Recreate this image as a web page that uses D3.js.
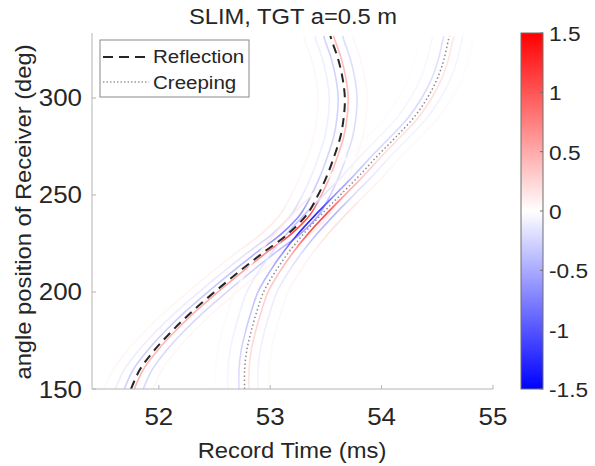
<!DOCTYPE html>
<html>
<head>
<meta charset="utf-8">
<script src="https://cdn.jsdelivr.net/npm/d3@7"></script>
<style>
  body { margin: 0; background: #fff; }
  text { font-family: "Liberation Sans", Arial, Helvetica, sans-serif; fill: #262626; }
</style>
</head>
<body>
<svg id="chart" width="595" height="466"></svg>
<script>
// receiver angle (deg) where the travel times were read
var angles = [150, 160, 170, 180, 190, 200, 210, 220, 230, 240, 250, 260, 270, 280, 290, 300, 310, 320, 330, 332];
// arrival times (ms)
var reflTime  = [51.75, 51.83, 51.96, 52.12, 52.30, 52.50, 52.71, 52.93, 53.16, 53.33, 53.43, 53.51, 53.575, 53.63, 53.66, 53.67, 53.65, 53.61, 53.55, 53.54];
var creepTime = [52.77, 52.77, 52.79, 52.83, 52.88, 52.94, 53.04, 53.16, 53.30, 53.46, 53.63, 53.80, 53.96, 54.13, 54.29, 54.41, 54.50, 54.56, 54.60, 54.61];
// strength of the image along each arrival
var reflGain  = [0.9, 0.9, 0.9, 0.9, 0.9, 1.0, 1.1, 1.4, 2.2, 2.0, 1.1, 0.8, 0.8, 0.8, 0.8, 0.8, 0.8, 0.8, 0.8, 0.8];
var creepGain = [0.5, 0.6, 0.7, 0.8, 0.9, 1.0, 1.2, 1.7, 3.4, 3.6, 1.9, 1.0, 0.7, 0.6, 0.6, 0.6, 0.5, 0.5, 0.5, 0.4];
// wavelet side lobes: time shift (ms) and amplitude
var reflOffsets  = [-0.24, -0.14, -0.06, 0.03, 0.11, 0.20];
var reflAmps     = [0.06, -0.12, -0.32, 0.50, -0.25, 0.06];
var creepOffsets = [-0.26, -0.15, -0.05, 0.04, 0.12, 0.22];
var creepAmps    = [0.04, -0.10, -0.36, 0.30, -0.12, 0.05];

var xTicks = [52, 53, 54, 55];
var yTicks = [150, 200, 250, 300];
var cbTicks = [1.5, 1, 0.5, 0, -0.5, -1, -1.5];

var svg = d3.select("#chart");
var pL = 92, pR = 493, pT = 33, pB = 389;

var x = d3.scaleLinear().domain([51.4, 55]).range([pL, pR]);
var y = d3.scaleLinear().domain([150, 333.5]).range([pB, pT]);
var color = d3.scaleLinear().domain([-1.5, 0, 1.5]).range(["#0000ff", "#ffffff", "#ff0000"]).clamp(true);

var defs = svg.append("defs");
defs.append("clipPath").attr("id", "plotclip")
  .append("rect").attr("x", pL).attr("y", pT).attr("width", pR - pL).attr("height", pB - pT);

// stretched text helper (matlab export is a bit wide)
var SX = 1.08;
function label(g, str, tx, ty, size, anchor, rot) {
  return g.append("text")
    .attr("transform", "translate(" + tx + "," + ty + ")" + (rot ? " rotate(" + rot + ")" : "") + " scale(" + SX + ",1)")
    .attr("text-anchor", anchor || "middle")
    .style("font-size", size + "px")
    .text(str);
}

var plot = svg.append("g").attr("clip-path", "url(#plotclip)");

var a0 = angles[0], a1 = angles[angles.length - 1];
var gid = 0;
function wavelets(times, gains, offsets, amps) {
  offsets.forEach(function(off, k) {
    var id = "wg" + (gid++);
    var grad = defs.append("linearGradient").attr("id", id)
      .attr("gradientUnits", "userSpaceOnUse")
      .attr("x1", 0).attr("x2", 0).attr("y1", y(a0)).attr("y2", y(a1));
    angles.forEach(function(a, i) {
      grad.append("stop").attr("offset", (a - a0) / (a1 - a0)).attr("stop-color", color(amps[k] * gains[i]));
    });
    var line = d3.line()
      .x(function(d, i) { return x(times[i] + off); })
      .y(function(d) { return y(d); })
      .curve(d3.curveCatmullRom);
    plot.append("path").datum(angles)
      .attr("d", line)
      .attr("fill", "none")
      .attr("stroke", "url(#" + id + ")")
      .attr("stroke-width", 1.6);
  });
}
wavelets(reflTime, reflGain, reflOffsets, reflAmps);
wavelets(creepTime, creepGain, creepOffsets, creepAmps);

function curve(times) {
  return d3.line()
    .x(function(d, i) { return x(times[i]); })
    .y(function(d) { return y(d); })
    .curve(d3.curveCatmullRom)(angles);
}
plot.append("path").attr("d", curve(creepTime))
  .attr("fill", "none").attr("stroke", "#8c8c8c").attr("stroke-width", 1.5)
  .attr("stroke-dasharray", "1.5,2.5");
plot.append("path").attr("d", curve(reflTime))
  .attr("fill", "none").attr("stroke", "#262626").attr("stroke-width", 2)
  .attr("stroke-dasharray", "9,6");

// axes
var axisCol = "#b4b4b4";
var ax = svg.append("g");
ax.append("line").attr("x1", pL).attr("x2", pR).attr("y1", pB).attr("y2", pB).attr("stroke", axisCol);
ax.append("line").attr("x1", pL).attr("x2", pL).attr("y1", pT).attr("y2", pB).attr("stroke", axisCol);
xTicks.forEach(function(t) {
  ax.append("line").attr("x1", x(t)).attr("x2", x(t)).attr("y1", pB).attr("y2", pB - 4).attr("stroke", axisCol);
  label(ax, t, x(t), 425, 24, "middle");
});
yTicks.forEach(function(t) {
  ax.append("line").attr("x1", pL).attr("x2", pL + 4).attr("y1", y(t)).attr("y2", y(t)).attr("stroke", axisCol);
  label(ax, t, 82, y(t) + 8.5, 24, "end");
});
label(ax, "Record Time (ms)", 292, 458, 22, "middle");
label(ax, "angle position of  Receiver (deg)", 31, 212, 22, "middle", -90);
label(ax, "SLIM, TGT a=0.5 m", 293, 24, 22, "middle");

// colorbar
var cb = svg.append("g");
var cy = d3.scaleLinear().domain([-1.5, 1.5]).range([pB, pT]);
var cg = defs.append("linearGradient").attr("id", "cbgrad").attr("x1", 0).attr("x2", 0).attr("y1", 1).attr("y2", 0);
cbTicks.slice().reverse().forEach(function(t) {
  cg.append("stop").attr("offset", (t + 1.5) / 3).attr("stop-color", color(t));
});
cb.append("rect").attr("x", 521).attr("y", pT).attr("width", 22).attr("height", pB - pT)
  .attr("fill", "url(#cbgrad)").attr("stroke", "#6e6e6e").attr("stroke-width", 1);
cbTicks.forEach(function(t) {
  cb.append("line").attr("x1", 543).attr("x2", 540).attr("y1", cy(t)).attr("y2", cy(t)).attr("stroke", "#6e6e6e");
  label(cb, t, 549, cy(t) + 8, 21, "start");
});

// legend
var lg = svg.append("g");
lg.append("rect").attr("x", 100).attr("y", 40).attr("width", 149).attr("height", 57)
  .attr("fill", "#fff").attr("stroke", "#8a8a8a").attr("stroke-width", 1);
lg.append("line").attr("x1", 103).attr("x2", 149).attr("y1", 57).attr("y2", 57)
  .attr("stroke", "#262626").attr("stroke-width", 2).attr("stroke-dasharray", "10,6");
lg.append("line").attr("x1", 103).attr("x2", 149).attr("y1", 82).attr("y2", 82)
  .attr("stroke", "#9a9a9a").attr("stroke-width", 1.3).attr("stroke-dasharray", "1.5,2");
label(lg, "Reflection", 153, 63, 19, "start");
label(lg, "Creeping", 153, 89, 19, "start");
</script>
</body>
</html>
